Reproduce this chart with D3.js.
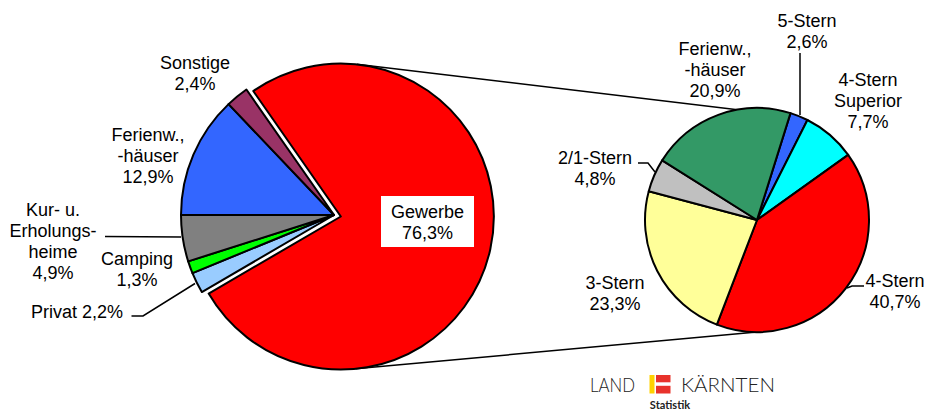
<!DOCTYPE html>
<html><head><meta charset="utf-8">
<script src="https://cdn.jsdelivr.net/npm/d3@7"></script>
<style>
html,body{margin:0;padding:0;background:#fff;}
svg{display:block;font-family:"Liberation Sans",Arial,sans-serif;}
</style></head>
<body>
<svg id="c" width="931" height="410"></svg>
<script>
// ---- data ----
const leftCategories = ["Gewerbe", "Privat", "Camping", "Kur- u. Erholungsheime", "Ferienw., -häuser", "Sonstige"];
const leftValues = [76.3, 2.2, 1.3, 4.9, 12.9, 2.4];
const leftLabelLines = [["Gewerbe"], ["Privat"], ["Camping"], ["Kur- u.", "Erholungs-", "heime"], ["Ferienw.,", "-häuser"], ["Sonstige"]];
const rightCategories = ["5-Stern", "4-Stern Superior", "4-Stern", "3-Stern", "2/1-Stern", "Ferienw., -häuser"];
const rightValues = [2.6, 7.7, 40.7, 23.3, 4.8, 20.9];
const rightLabelLines = [["5-Stern"], ["4-Stern", "Superior"], ["4-Stern"], ["3-Stern"], ["2/1-Stern"], ["Ferienw.,", "-häuser"]];

// ---- styles / layout ----
const leftColors = ["#FF0000", "#99CCFF", "#00FF00", "#808080", "#3366FF", "#993366"];
const rightColors = ["#3366FF", "#00FFFF", "#FF0000", "#FFFF99", "#C0C0C0", "#339966"];
const deg = Math.PI / 180;
const fmt = v => d3.format(".1f")(v).replace(".", ",") + "%";

const svg = d3.select("#c");
const L = {cx: 334, cy: 215, r: 153, explode: 7};
const R = {cx: 757, cy: 220, r: 112};

// left pie: Kur/Ferienw boundary sits at 270deg (9 o'clock)
const before = d3.sum(leftValues.slice(0, 4));
const total = d3.sum(leftValues);
const leftStart = (270 - before / total * 360) * deg;
const leftPie = d3.pie().sort(null).value(d => d).startAngle(leftStart).endAngle(leftStart + 2 * Math.PI);
const leftArcs = leftPie(leftValues);
const leftArc = d3.arc().innerRadius(0).outerRadius(L.r);

const rightStart = 17.4 * deg;
const rightPie = d3.pie().sort(null).value(d => d).startAngle(rightStart).endAngle(rightStart + 2 * Math.PI);
const rightArcs = rightPie(rightValues);
const rightArc = d3.arc().innerRadius(0).outerRadius(R.r);

// explode offset for Gewerbe
const g0 = leftArcs[0];
const gMid = (g0.startAngle + g0.endAngle) / 2;
const gdx = L.explode * Math.sin(gMid), gdy = -L.explode * Math.cos(gMid);
const gcx = L.cx + gdx, gcy = L.cy + gdy;

// connector lines (pie-of-pie)
const pt = (cx, cy, r, a) => [cx + r * Math.sin(a * deg), cy - r * Math.cos(a * deg)];
const conn = [[pt(gcx, gcy, L.r, 6), pt(R.cx, R.cy, R.r, -10)], [pt(gcx, gcy, L.r, 174.5), pt(R.cx, R.cy, R.r, 180)]];
svg.selectAll("line.conn").data(conn).join("line").attr("class", "conn")
  .attr("x1", d => d[0][0]).attr("y1", d => d[0][1]).attr("x2", d => d[1][0]).attr("y2", d => d[1][1])
  .attr("stroke", "#000").attr("stroke-width", 1.5);

const gl = svg.append("g").attr("transform", `translate(${L.cx},${L.cy})`);
gl.selectAll("path").data(leftArcs).join("path")
  .attr("d", leftArc)
  .attr("transform", (d, i) => i === 0 ? `translate(${gdx},${gdy})` : null)
  .attr("fill", (d, i) => leftColors[i])
  .attr("stroke", "#000").attr("stroke-width", 2).attr("stroke-linejoin", "round");

const gr = svg.append("g").attr("transform", `translate(${R.cx},${R.cy})`);
gr.selectAll("path").data(rightArcs).join("path")
  .attr("d", rightArc)
  .attr("fill", (d, i) => rightColors[i])
  .attr("stroke", "#000").attr("stroke-width", 2).attr("stroke-linejoin", "round");

// leader lines
const leaders = [
  [[105, 236.5], [181, 237]],
  [[131.5, 316], [143, 316], [195, 283.5]],
  [[800, 53], [800, 115]],
  [[638, 163], [648, 163], [655, 172]],
  [[847, 288], [852, 286], [864, 286]]
];
svg.selectAll("path.lead").data(leaders).join("path").attr("class", "lead")
  .attr("d", d => d3.line()(d)).attr("fill", "none").attr("stroke", "#000").attr("stroke-width", 1.5);

// Gewerbe label box
svg.append("rect").attr("x", 381).attr("y", 196).attr("width", 93).attr("height", 51).attr("fill", "#fff");

// label positions: [x, firstBaseline, anchor]
const leftLabelPos = [[427.5, 218, "middle"], [31, 318, "start"], [137, 265, "middle"], [53, 216, "middle"], [148, 141, "middle"], [195, 69, "middle"]];
const rightLabelPos = [[807, 27, "middle"], [868, 86, "middle"], [895, 287, "middle"], [615, 288.5, "middle"], [595, 164, "middle"], [715, 55, "middle"]];
const lh = 21;

function drawLabels(lines, vals, pos, inline) {
  lines.forEach((ls, i) => {
    const [x, y, anc] = pos[i];
    const t = svg.append("text").attr("x", x).attr("y", y).attr("text-anchor", anc)
      .attr("font-size", 18).attr("fill", "#000");
    if (inline[i]) {
      t.text(ls.join(" ") + " " + fmt(vals[i]));
    } else {
      ls.concat([fmt(vals[i])]).forEach((s, k) => {
        t.append("tspan").attr("x", x).attr("y", y + k * lh).text(s);
      });
    }
  });
}
drawLabels(leftLabelLines, leftValues, leftLabelPos, [false, true, false, false, false, false]);
drawLabels(rightLabelLines, rightValues, rightLabelPos, [false, false, false, false, false, false]);

// logo
const logo = svg.append("g");
logo.append("text").attr("x", 590).attr("y", 391.5).attr("font-family", "Lato, 'Open Sans', sans-serif")
  .attr("font-weight", 300).attr("font-size", 19.5).attr("textLength", 45).attr("lengthAdjust", "spacingAndGlyphs")
  .attr("fill", "#222").text("LAND");
logo.append("rect").attr("x", 649.5).attr("y", 375).attr("width", 5).attr("height", 18.5).attr("fill", "#FFD200");
logo.append("rect").attr("x", 656).attr("y", 375).attr("width", 14.5).attr("height", 7.3).attr("fill", "#E8322B");
logo.append("rect").attr("x", 656).attr("y", 385.8).attr("width", 14.5).attr("height", 7.7).attr("fill", "#E8322B");
logo.append("text").attr("x", 681).attr("y", 391.5).attr("font-family", "Lato, 'Open Sans', sans-serif")
  .attr("font-weight", 300).attr("font-size", 19.5).attr("textLength", 94).attr("lengthAdjust", "spacingAndGlyphs")
  .attr("fill", "#222").text("KÄRNTEN");
logo.append("text").attr("x", 670).attr("y", 408.5).attr("text-anchor", "middle").attr("font-family", "Lato, 'Open Sans', sans-serif")
  .attr("font-weight", 700).attr("font-size", 11).attr("fill", "#222").text("Statistik");
</script>
</body></html>
